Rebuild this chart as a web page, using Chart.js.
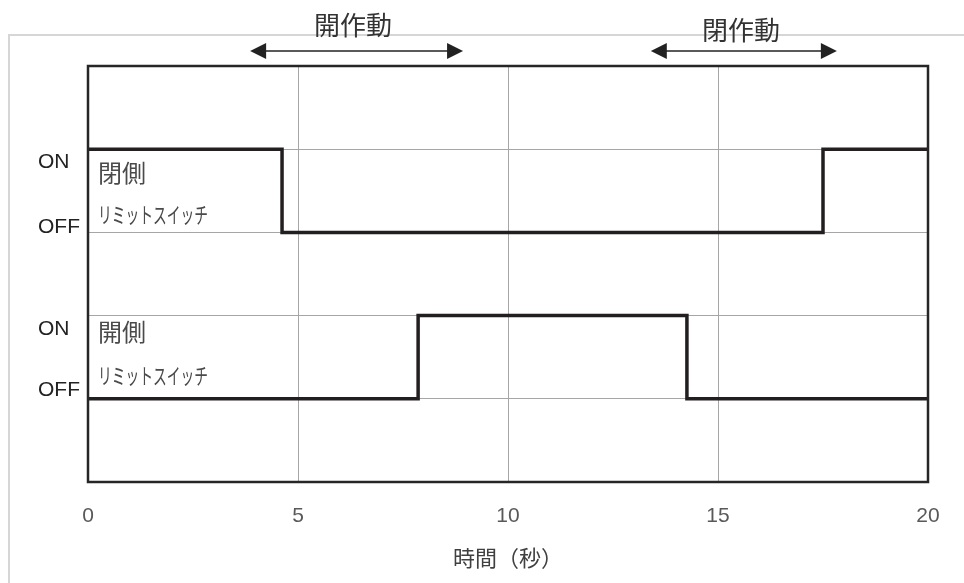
<!DOCTYPE html>
<html>
<head>
<meta charset="utf-8">
<script src="https://cdn.jsdelivr.net/npm/chart.js@4/dist/chart.umd.min.js"></script>
<style>
  html, body { margin: 0; padding: 0; background: #fff; }
  canvas { display: block; }
</style>
</head>
<body>
<canvas id="c" width="964" height="583"></canvas>
<script>
// ---- data ----
// 閉側リミットスイッチ (upper trace): times (s) where the state changes, and states (1 = ON, 0 = OFF)
const closeSwitchTimes  = [0, 4.62, 17.5, 20];
const closeSwitchStates = [1, 0, 1, 1];
// 開側リミットスイッチ (lower trace)
const openSwitchTimes   = [0, 7.86, 14.26, 20];
const openSwitchStates  = [0, 1, 0, 0];
// vertical offsets of the two traces on the value axis (OFF level)
const closeSwitchBase = 3;
const openSwitchBase  = 1;

// x-axis
const xTickStep = 5;
const xMin = 0, xMax = 20;
const xTitle = '時間（秒）';

// y-axis labels (ON/OFF) and where they sit on the value axis
const yTickValues = [1.106, 1.839, 3.065, 3.846];
const yTickLabels = ['OFF', 'ON', 'OFF', 'ON'];

// in-plot trace labels
const traceLabels = [
  { name: '閉側', sub: 'リミットスイッチ', nameY: 3.71, subY: 3.21 },
  { name: '開側', sub: 'リミットスイッチ', nameY: 1.8, subY: 1.28 }
];
// operation arrows above the plot (seconds)
const operations = [
  { text: '開作動', from: 3.86, to: 8.93, textX: 6.31 },
  { text: '閉作動', from: 13.4, to: 17.83, textX: 15.55 }
];

const toPoints = (ts, ss, base) => ts.map((t, i) => ({ x: t, y: ss[i] + base }));

const CJK = '"Noto Sans CJK JP", "Noto Sans CJK SC", sans-serif';

const decor = {
  id: 'decor',
  beforeDraw(chart) {
    const ctx = chart.ctx;
    ctx.save();
    ctx.fillStyle = '#fff';
    ctx.fillRect(0, 0, chart.width, chart.height);
    ctx.strokeStyle = '#d6d6d6';
    ctx.lineWidth = 2;
    ctx.beginPath();
    ctx.moveTo(9, chart.height);
    ctx.lineTo(9, 35);
    ctx.lineTo(chart.width, 35);
    ctx.stroke();
    ctx.restore();
  },
  afterDraw(chart) {
    const ctx = chart.ctx;
    const a = chart.chartArea;
    const xs = chart.scales.x, ys = chart.scales.y;
    ctx.save();
    // plot frame
    ctx.strokeStyle = '#262626';
    ctx.lineWidth = 2.5;
    ctx.strokeRect(a.left, a.top, a.right - a.left, a.bottom - a.top);

    // trace labels
    ctx.fillStyle = '#4a4a4a';
    ctx.textAlign = 'left';
    ctx.textBaseline = 'middle';
    traceLabels.forEach(l => {
      ctx.font = '24px ' + CJK;
      ctx.fillText(l.name, a.left + 10, ys.getPixelForValue(l.nameY));
      ctx.font = '22px ' + CJK;
      ctx.fillText(l.sub, a.left + 10, ys.getPixelForValue(l.subY), 110);
    });

    // operation arrows
    operations.forEach((o, i) => {
      const x1 = xs.getPixelForValue(o.from), x2 = xs.getPixelForValue(o.to);
      const y = 51;
      ctx.strokeStyle = '#222';
      ctx.fillStyle = '#222';
      ctx.lineWidth = 1.5;
      ctx.beginPath();
      ctx.moveTo(x1 + 10, y);
      ctx.lineTo(x2 - 10, y);
      ctx.stroke();
      ctx.beginPath();
      ctx.moveTo(x1, y); ctx.lineTo(x1 + 16, y - 8); ctx.lineTo(x1 + 16, y + 8); ctx.closePath(); ctx.fill();
      ctx.beginPath();
      ctx.moveTo(x2, y); ctx.lineTo(x2 - 16, y - 8); ctx.lineTo(x2 - 16, y + 8); ctx.closePath(); ctx.fill();
      ctx.fillStyle = '#333';
      ctx.font = '26px ' + CJK;
      ctx.textAlign = 'center';
      ctx.textBaseline = 'middle';
      ctx.fillText(o.text, xs.getPixelForValue(o.textX), i === 0 ? 25 : 30);
    });
    ctx.restore();
  }
};

new Chart(document.getElementById('c'), {
  type: 'scatter',
  data: {
    datasets: [
      {
        label: '閉側リミットスイッチ',
        data: toPoints(closeSwitchTimes, closeSwitchStates, closeSwitchBase),
        showLine: true, stepped: true,
        borderColor: '#231f20', borderWidth: 3.5, pointRadius: 0
      },
      {
        label: '開側リミットスイッチ',
        data: toPoints(openSwitchTimes, openSwitchStates, openSwitchBase),
        showLine: true, stepped: true,
        borderColor: '#231f20', borderWidth: 3.5, pointRadius: 0
      }
    ]
  },
  options: {
    responsive: false,
    animation: false,
    devicePixelRatio: 1,
    layout: { padding: { left: 38, right: 36, top: 66, bottom: 0 } },
    plugins: { legend: { display: false }, tooltip: { enabled: false } },
    scales: {
      x: {
        type: 'linear', min: xMin, max: xMax,
        ticks: { stepSize: xTickStep, color: '#595959', padding: 22,
                 font: { family: '"Liberation Sans", Arial, sans-serif', size: 21 } },
        grid: { color: '#a6a6a6', lineWidth: 1, drawTicks: false },
        border: { display: false },
        title: { display: true, text: xTitle, color: '#404040',
                 font: { family: CJK, size: 22 }, padding: { top: 0, bottom: 12 } },
        afterFit: s => { s.height = 101; }
      },
      y: {
        type: 'linear', position: 'left', min: 0, max: 5,
        afterBuildTicks: axis => { axis.ticks = yTickValues.map(v => ({ value: v })); },
        ticks: { crossAlign: 'far', color: '#222',
                 font: { family: '"Liberation Sans", Arial, sans-serif', size: 21 },
                 callback: (v, i) => yTickLabels[i] },
        grid: { display: false },
        border: { display: false },
        afterFit: s => { s.width = 50; }
      },
      yGrid: {
        type: 'linear', position: 'left', min: 0, max: 5,
        ticks: { stepSize: 1, display: false },
        grid: { color: '#a6a6a6', lineWidth: 1, drawTicks: false },
        border: { display: false },
        afterFit: s => { s.width = 0; }
      }
    }
  },
  plugins: [decor]
});
</script>
</body>
</html>
